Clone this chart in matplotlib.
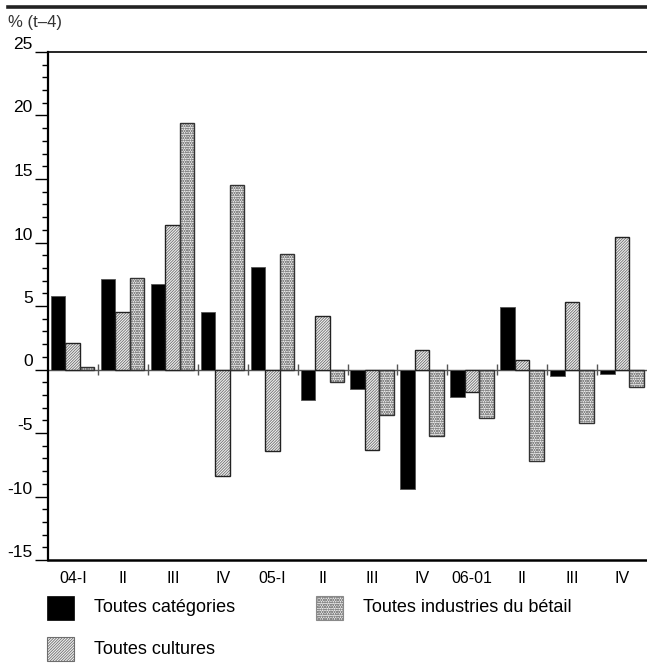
import numpy as np
import matplotlib
matplotlib.use('Agg')
import matplotlib.pyplot as plt
from matplotlib.patches import Rectangle
from matplotlib.lines import Line2D

plt.rcParams['font.family'] = ['Liberation Sans', 'DejaVu Sans']
plt.rcParams['axes.unicode_minus'] = False
plt.rcParams['hatch.linewidth'] = 0.6

# Quarter labels
quarters = ['04-I', 'II', 'III', 'IV', '05-I', 'II', 'III', 'IV', '06-01', 'II', 'III', 'IV']

# % change over the same quarter a year earlier (t-4)
toutes_categories = [5.8, 7.1, 6.7, 4.5, 8.1, -2.4, -1.5, -9.4, -2.2, 4.9, -0.5, -0.35]
toutes_cultures = [2.1, 4.5, 11.4, -8.4, -6.4, 4.2, -6.3, 1.5, -1.8, 0.75, 5.3, 10.4]
toutes_betail = [0.2, 7.2, 19.4, 14.5, 9.1, -0.95, -3.6, -5.2, -3.8, -7.2, -4.2, -1.4]

HATCH_C = '////////////'
HATCH_B = 'ooooooo'

fig = plt.figure(figsize=(6.47, 6.63), dpi=100)
ax = fig.add_axes([48 / 647, 103 / 663, 599 / 647, 508 / 663])

x = np.arange(len(quarters))
w = 0.29
pos_black = x + 0.06 + w / 2
pos_hatch = pos_black + w
pos_dot = pos_hatch + w

# black bars
ax.bar(pos_black, toutes_categories, w, color='black', edgecolor='#555555', linewidth=0.6, zorder=3)

# hatched bars (crops): pattern first, then outline
ax.bar(pos_hatch, toutes_cultures, w, color='#f2f2f2', edgecolor='#6e6e6e', hatch=HATCH_C, linewidth=0, zorder=3)
ax.bar(pos_hatch, toutes_cultures, w, fill=False, edgecolor='#222222', linewidth=1.0, zorder=4)

# dotted bars (livestock)
ax.bar(pos_dot, toutes_betail, w, color='#ececec', edgecolor='#8a8a8a', hatch=HATCH_B, linewidth=0, zorder=3)
ax.bar(pos_dot, toutes_betail, w, fill=False, edgecolor='#333333', linewidth=1.0, zorder=4)

# zero line and group separators
ax.axhline(0, color='#555555', linewidth=1.0, zorder=2)
ax.vlines(x[1:], -0.4, 0.4, color='#555555', linewidth=1.0, zorder=2)

ax.set_xlim(0, len(quarters))
ax.set_ylim(-15, 25)

ax.set_xticks(x + 0.5)
ax.set_xticklabels(quarters, fontsize=11.5)
ax.tick_params(axis='x', length=0, pad=8)

ax.set_yticks(np.arange(-15, 26, 5))
ax.set_yticks(np.arange(-15, 26, 1), minor=True)
ax.tick_params(axis='y', which='major', length=9.5, width=1.0, pad=1.5, labelsize=12.5)
ax.tick_params(axis='y', which='minor', length=4, width=1.0)
for lab in ax.get_yticklabels():
    lab.set_va('bottom')

ax.spines['right'].set_visible(False)
ax.spines['top'].set_linewidth(1.2)
ax.spines['left'].set_linewidth(1.6)
ax.spines['bottom'].set_linewidth(1.8)

# header rule and unit label
fig.add_artist(Line2D([8 / 647, 1], [1 - 7 / 663, 1 - 7 / 663], color='#222222', linewidth=2.6))
fig.text(8 / 647, 1 - 23 / 663, '% (t\u20134)', fontsize=12, color='#333333', va='center', ha='left')

# legend
def legend_item(px, py, label, **kw):
    fig.add_artist(Rectangle((px / 647, 1 - (py + 24) / 663), 27 / 647, 24 / 663,
                             transform=fig.transFigure, **kw))
    fig.text((px + 47) / 647, 1 - (py + 12) / 663, label, fontsize=13, va='center', ha='left')

legend_item(47, 596, 'Toutes catégories', facecolor='black', edgecolor='black', linewidth=0.5)
legend_item(316, 596, 'Toutes industries du bétail', facecolor='#ececec', edgecolor='#8a8a8a',
            hatch=HATCH_B, linewidth=0.8)
legend_item(47, 637, 'Toutes cultures', facecolor='#f2f2f2', edgecolor='#6e6e6e', hatch=HATCH_C, linewidth=0.8)

fig.savefig('out.png', dpi=100)
